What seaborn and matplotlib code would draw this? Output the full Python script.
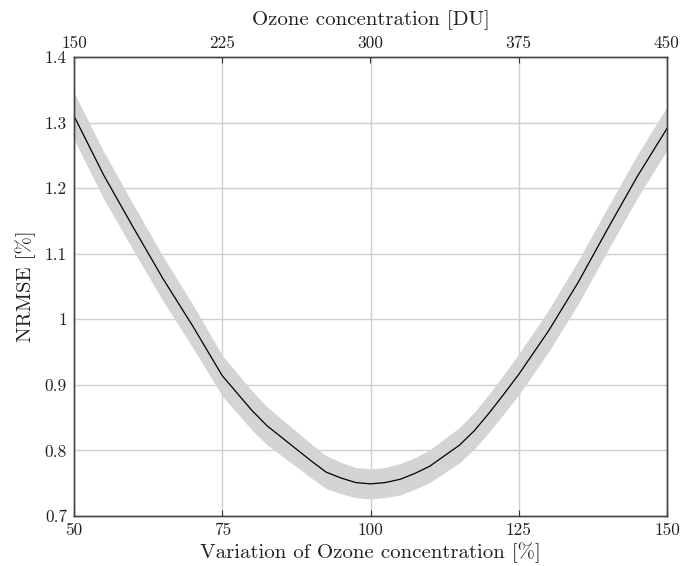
import numpy as np
import pandas as pd
import matplotlib
matplotlib.use("Agg")
import matplotlib.pyplot as plt
import seaborn as sns

# Data
variation = [50, 55, 60, 65, 70, 75, 80, 82.5, 85, 87.5, 90, 92.5, 95, 97.5, 100,
             102.5, 105, 107.5, 110, 112.5, 115, 117.5, 120, 122.5, 125, 130, 135, 140, 145, 150]
nrmse = [1.310, 1.220, 1.140, 1.062, 0.990, 0.914, 0.861, 0.838, 0.820, 0.802, 0.784, 0.767,
         0.758, 0.751, 0.749, 0.751, 0.756, 0.765, 0.776, 0.792, 0.808, 0.830, 0.857, 0.886,
         0.916, 0.982, 1.056, 1.138, 1.218, 1.291]
spread = [0.036, 0.036, 0.035, 0.034, 0.033, 0.031, 0.030, 0.029, 0.028, 0.027, 0.026, 0.025,
          0.024, 0.023, 0.023, 0.023, 0.024, 0.024, 0.025, 0.026, 0.027, 0.028, 0.029, 0.030,
          0.031, 0.032, 0.033, 0.033, 0.033, 0.033]
x_ticks = [50, 75, 100, 125, 150]
top_ticks = [150, 225, 300, 375, 450]
y_ticks = [0.7, 0.8, 0.9, 1.0, 1.1, 1.2, 1.3, 1.4]
y_tick_labels = ["0.7", "0.8", "0.9", "1", "1.1", "1.2", "1.3", "1.4"]

df = pd.DataFrame({"variation": variation, "nrmse": nrmse, "spread": spread})

sns.set_style("white")
plt.rcParams["font.family"] = "serif"
plt.rcParams["font.serif"] = ["cmr10", "DejaVu Serif"]
plt.rcParams["mathtext.fontset"] = "cm"
plt.rcParams["axes.formatter.use_mathtext"] = True

fig = plt.figure(figsize=(6.94, 5.66), dpi=100)
ax = fig.add_axes([74/694, 1-516/566, (667-74)/694, (516-57)/566])

grid_c = "#cfcfcf"
for xv in x_ticks[1:-1]:
    ax.axvline(xv, color=grid_c, lw=1.0, zorder=0)
for yv in y_ticks[1:-1]:
    ax.axhline(yv, color=grid_c, lw=1.0, zorder=0)

ax.fill_between(df["variation"], df["nrmse"] - df["spread"], df["nrmse"] + df["spread"],
                color="#d3d4d6", lw=0, zorder=1)
sns.lineplot(data=df, x="variation", y="nrmse", ax=ax, color="black", lw=0.9, zorder=2)

ax.set_xlim(50, 150)
ax.set_ylim(0.7, 1.4)
ax.set_xticks(x_ticks)
ax.set_xticklabels([str(v) for v in x_ticks])
ax.set_yticks(y_ticks)
ax.set_yticklabels(y_tick_labels)
ax.tick_params(direction="in", length=4, width=0.8, labelsize=12.5, colors="#333333",
               labelcolor="#222222")
ax.tick_params(axis="x", pad=5)
ax.tick_params(axis="y", pad=5)
ax.set_xlabel("Variation of Ozone concentration [%]", fontsize=15, labelpad=3, color="#222222")
ax.set_ylabel("NRMSE [%]", fontsize=15, labelpad=6, color="#222222")
for s in ax.spines.values():
    s.set_color("#444444")
    s.set_linewidth(1.0)

top = ax.twiny()
top.set_xlim(150, 450)
top.set_xticks(top_ticks)
top.set_xticklabels([str(v) for v in top_ticks])
top.tick_params(direction="in", length=4, width=0.8, labelsize=12.5, pad=4, colors="#333333",
                labelcolor="#222222")
top.set_xlabel("Ozone concentration [DU]", fontsize=15, labelpad=8, color="#222222")
for s in top.spines.values():
    s.set_color("#444444")
    s.set_linewidth(1.0)

fig.savefig("out.png", dpi=100)
